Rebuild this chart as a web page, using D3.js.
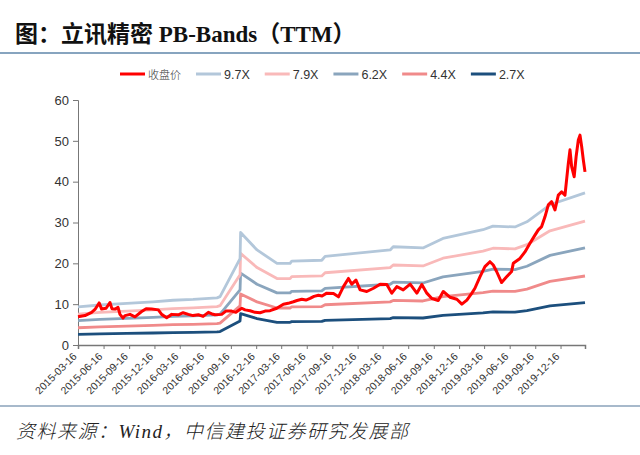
<!DOCTYPE html>
<html>
<head>
<meta charset="utf-8">
<script src="https://cdn.jsdelivr.net/npm/d3@7"></script>
<style>
    body { margin: 0; background: #fff; }
    svg { display: block; }
</style>
</head>
<body>
<svg id="chart" width="640" height="455"></svg>
<script>
// Book value per share behind the bands
const bvpsDates = ['2015-03-16', '2015-06-03', '2015-09-08', '2015-12-11', '2016-02-21',
    '2016-05-03', '2016-07-28', '2016-08-08', '2016-10-19', '2016-10-21', '2016-12-19',
    '2017-03-01', '2017-04-17', '2017-04-23', '2017-08-09', '2017-08-21', '2018-04-12',
    '2018-04-23', '2018-08-08', '2018-10-19', '2019-03-12', '2019-04-17', '2019-07-05',
    '2019-08-17', '2019-11-08', '2020-03-13'];
const bvpsValues = [0.96, 1.01, 1.05, 1.09, 1.13,
    1.15, 1.19, 1.22, 2.18, 2.84, 2.40,
    2.06, 2.06, 2.12, 2.14, 2.24, 2.40,
    2.48, 2.45, 2.69, 2.91, 3.00, 2.98,
    3.11, 3.54, 3.84];

const bandNames = ['9.7X', '7.9X', '6.2X', '4.4X', '2.7X'];
const bandMultiples = [9.7, 7.9, 6.2, 4.4, 2.7];
const bandColors = ['#b3c7da', '#f9b9b9', '#8aa5bd', '#f08a8a', '#1c4f7d'];

const priceName = '收盘价';
const priceColor = '#ff0000';
const priceDates = ['2015-03-16', '2015-04-10', '2015-05-04', '2015-05-16', '2015-05-31',
    '2015-06-09', '2015-06-25', '2015-07-09', '2015-07-16', '2015-07-27', '2015-08-07',
    '2015-08-14', '2015-08-25', '2015-09-01', '2015-09-19', '2015-10-07', '2015-10-31',
    '2015-11-16', '2015-12-06', '2015-12-30', '2016-01-11', '2016-01-29', '2016-02-16',
    '2016-03-11', '2016-03-28', '2016-04-16', '2016-05-03', '2016-05-22', '2016-06-08',
    '2016-06-27', '2016-07-10', '2016-07-21', '2016-08-14', '2016-08-29', '2016-09-19',
    '2016-10-04', '2016-10-25', '2016-11-06', '2016-11-24', '2016-12-12', '2016-12-30',
    '2017-01-17', '2017-02-04', '2017-02-28', '2017-03-24', '2017-04-10', '2017-04-29',
    '2017-05-12', '2017-05-29', '2017-06-13', '2017-06-28', '2017-07-12', '2017-07-28',
    '2017-08-10', '2017-08-27', '2017-09-20', '2017-10-08', '2017-10-26', '2017-11-13',
    '2017-11-25', '2017-12-10', '2017-12-25', '2018-01-18', '2018-02-11', '2018-03-07',
    '2018-03-31', '2018-04-18', '2018-05-06', '2018-05-29', '2018-06-23', '2018-07-17',
    '2018-08-04', '2018-08-22', '2018-09-09', '2018-10-02', '2018-10-20', '2018-11-13',
    '2018-12-08', '2018-12-26', '2019-01-13', '2019-01-31', '2019-02-11', '2019-03-01',
    '2019-03-19', '2019-04-06', '2019-04-18', '2019-04-30', '2019-05-18', '2019-06-05',
    '2019-06-23', '2019-06-29', '2019-07-23', '2019-08-10', '2019-08-28', '2019-09-15',
    '2019-09-27', '2019-10-09', '2019-10-21', '2019-11-02', '2019-11-14', '2019-11-26',
    '2019-12-08', '2019-12-20', '2020-01-01', '2020-01-13', '2020-01-19', '2020-01-25',
    '2020-02-03', '2020-02-10', '2020-02-18', '2020-02-24', '2020-03-01', '2020-03-07',
    '2020-03-13'];
const priceValues = [6.9, 7.2, 8.0, 8.7, 10.3,
    8.8, 9.0, 10.4, 8.9, 8.8, 9.2,
    7.5, 6.6, 7.2, 7.5, 6.9, 8.2,
    8.9, 8.8, 8.6, 7.5, 6.7, 7.5,
    7.4, 7.9, 7.5, 7.2, 7.4, 7.0,
    8.0, 7.6, 7.4, 7.5, 8.3, 8.3,
    8.0, 9.0, 8.6, 8.4, 8.0, 7.9,
    8.3, 8.4, 9.0, 10.0, 10.2, 10.6,
    10.9, 11.2, 11.0, 11.4, 11.9, 12.2,
    12.0, 12.7, 12.6, 11.8, 14.3, 16.3,
    14.9, 15.9, 13.5, 13.1, 13.9, 14.9,
    14.8, 12.7, 14.3, 13.5, 14.9, 12.7,
    14.8, 12.7, 11.4, 10.9, 13.1, 11.7,
    11.2, 10.0, 11.0, 12.7, 13.9, 16.7,
    19.2, 20.4, 19.6, 18.0, 15.3, 16.7,
    18.0, 20.0, 21.2, 22.8, 24.9, 26.9,
    28.2, 29.0, 31.4, 34.3, 35.1, 33.1,
    36.7, 37.5, 36.7, 44.5, 47.8, 43.7,
    41.2, 46.1, 50.2, 51.4, 48.6, 45.3,
    42.4];

const xTickDates = ['2015-03-16', '2015-06-16', '2015-09-16', '2015-12-16', '2016-03-16',
    '2016-06-16', '2016-09-16', '2016-12-16', '2017-03-16', '2017-06-16', '2017-09-16',
    '2017-12-16', '2018-03-16', '2018-06-16', '2018-09-16', '2018-12-16', '2019-03-16',
    '2019-06-16', '2019-09-16', '2019-12-16'];
const yTicks = [0, 10, 20, 30, 40, 50, 60];

const titleText = '图：立讯精密 PB-Bands（TTM）';
const sourceText = '资料来源：Wind，中信建投证券研究发展部';

function drawChart()
{
    const parse = d3.timeParse('%Y-%m-%d');
    const svg = d3.select('#chart');

    const left = 78, right = 585, top = 100, bottom = 345;

    const x = d3.scaleTime()
        .domain([parse(xTickDates[0]), parse(priceDates[priceDates.length - 1])])
        .range([left, right]);
    const y = d3.scaleLinear()
        .domain([0, 60])
        .range([bottom, top]);

    svg.append('rect')
        .attr('width', 640)
        .attr('height', 455)
        .attr('fill', '#ffffff');

    // Title and the rule below it
    svg.append('text')
        .attr('x', 15)
        .attr('y', 42)
        .style('font-family', '"Liberation Serif", "Noto Sans CJK SC", serif')
        .style('font-weight', 'bold')
        .style('font-size', '23px')
        .style('fill', '#111')
        .text(titleText);

    svg.append('line')
        .attr('x1', 0).attr('x2', 640)
        .attr('y1', 53).attr('y2', 53)
        .style('stroke', '#5f86aa')
        .style('stroke-width', 1.5);

    // Axes
    const yAxis = d3.axisLeft(y)
        .tickValues(yTicks)
        .tickSize(5)
        .tickPadding(4);
    const gy = svg.append('g')
        .attr('transform', 'translate(' + left + ',0)')
        .call(yAxis);
    gy.select('.domain').style('stroke', '#777');
    gy.selectAll('.tick line').style('stroke', '#777');
    gy.selectAll('.tick text')
        .style('font-family', '"Liberation Sans", Arial, sans-serif')
        .style('font-size', '13px')
        .style('fill', '#333');

    const xAxis = d3.axisBottom(x)
        .tickValues(xTickDates.map(parse))
        .tickFormat(d3.timeFormat('%Y-%m-%d'))
        .tickSizeOuter(0)
        .tickSize(4);
    const gx = svg.append('g')
        .attr('transform', 'translate(0,' + bottom + ')')
        .call(xAxis);
    gx.select('.domain').style('stroke', '#777').style('stroke-width', 1.5);
    gx.selectAll('.tick line').style('stroke', '#777');
    gx.selectAll('.tick text')
        .attr('text-anchor', 'end')
        .attr('dy', null)
        .attr('transform', 'translate(-1,12) rotate(-45)')
        .attr('y', 0)
        .attr('x', 0)
        .style('font-family', '"Liberation Sans", Arial, sans-serif')
        .style('font-size', '10.5px')
        .style('fill', '#333');

    // PB bands
    const bvps = bvpsDates.map((d, i) => ({date: parse(d), value: bvpsValues[i]}));
    const bandLine = m => d3.line()
        .x(d => x(d.date))
        .y(d => y(d.value * m));

    const plot = svg.append('g');
    for (let i = bandMultiples.length - 1; i >= 0; i--)
    {
        plot.append('path')
            .datum(bvps)
            .attr('d', bandLine(bandMultiples[i]))
            .style('fill', 'none')
            .style('stroke', bandColors[i])
            .style('stroke-width', 2.8)
            .style('stroke-linejoin', 'round');
    }

    // Close price
    const price = priceDates.map((d, i) => ({date: parse(d), value: priceValues[i]}));
    plot.append('path')
        .datum(price)
        .attr('d', d3.line().x(d => x(d.date)).y(d => y(d.value)))
        .style('fill', 'none')
        .style('stroke', priceColor)
        .style('stroke-width', 3)
        .style('stroke-linejoin', 'round');

    // Legend
    const legendItems = [{name: priceName, color: priceColor, cjk: true}]
        .concat(bandNames.map((n, i) => ({name: n, color: bandColors[i], cjk: false})));
    const legend = svg.append('g');
    let lx = 120;
    legendItems.forEach(item =>
    {
        legend.append('line')
            .attr('x1', lx).attr('x2', lx + 25)
            .attr('y1', 74).attr('y2', 74)
            .style('stroke', item.color)
            .style('stroke-width', 3);
        const t = legend.append('text')
            .attr('x', lx + 28)
            .attr('y', 78.5)
            .style('font-family', item.cjk ? '"Noto Sans CJK SC", sans-serif' : '"Liberation Sans", Arial, sans-serif')
            .style('font-size', item.cjk ? '11px' : '12.5px')
            .style('font-weight', item.cjk ? 300 : 'normal')
            .style('fill', '#333')
            .text(item.name);
        lx += 28 + t.node().getComputedTextLength() + 15;
    });

    // Source rule and note
    svg.append('line')
        .attr('x1', 0).attr('x2', 640)
        .attr('y1', 406).attr('y2', 406)
        .style('stroke', '#a7b9cb')
        .style('stroke-width', 2);

    svg.append('text')
        .attr('x', 16)
        .attr('y', 438)
        .style('font-family', '"Liberation Serif", "Noto Sans CJK SC", serif')
        .style('font-style', 'italic')
        .style('font-weight', 300)
        .style('font-size', '19px')
        .style('letter-spacing', '1.5px')
        .style('fill', '#222')
        .text(sourceText);
}

drawChart();
</script>
</body>
</html>
